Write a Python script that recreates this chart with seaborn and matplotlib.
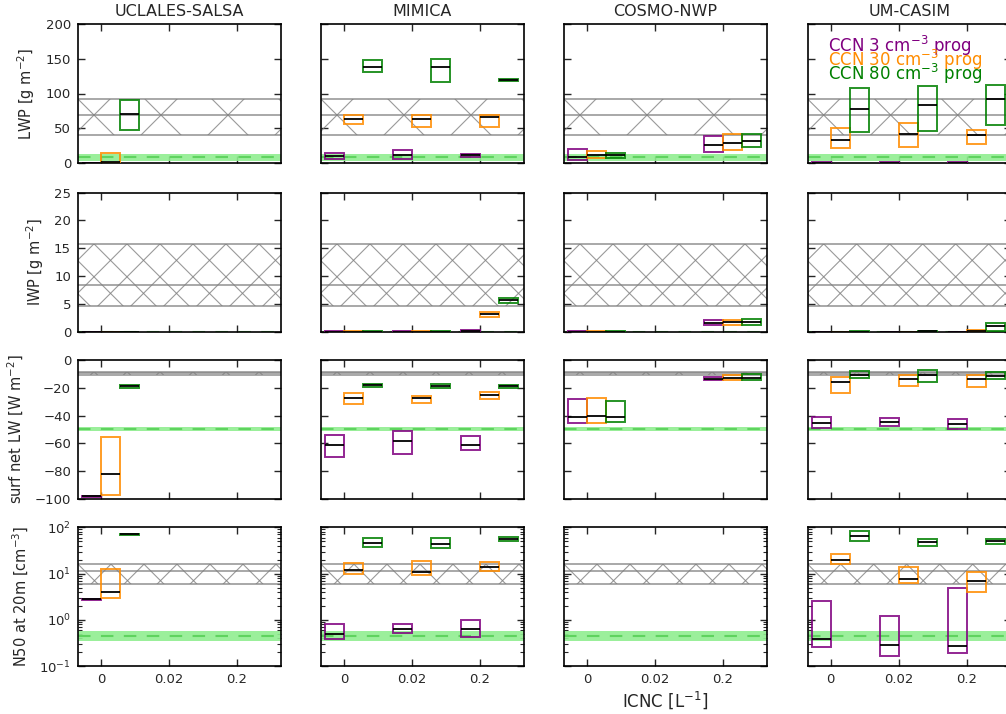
#!/usr/bin/env python3
"""
Box summary of cloud properties per model, CCN and ICNC
"""

import numpy as np
import matplotlib
matplotlib.use('Agg')
import matplotlib.pyplot as plt
import matplotlib.transforms as mtransforms
from matplotlib.collections import LineCollection
from matplotlib.patches import Rectangle
import seaborn as sns

nan = np.nan
N = (nan, nan, nan)

models = ['UCLALES-SALSA', 'MIMICA', 'COSMO-NWP', 'UM-CASIM']
icnc_labels = ['0', '0.02', '0.2']
ccn_labels = ['CCN 3 cm$^{-3}$ prog', 'CCN 30 cm$^{-3}$ prog', 'CCN 80 cm$^{-3}$ prog']
ccn_colors = ['#800080', '#ff8c00', '#008000']

# (low, median, high) per model -> [ccn3, ccn30, ccn80] -> [icnc 0, 0.02, 0.2]
lwp = {
    'UCLALES-SALSA': [[(0, 0, 0), N, N], [(0, 1.5, 14), N, N], [(48, 70, 90), N, N]],
    'MIMICA': [[(5.3, 10.6, 14.9), (5.8, 12, 18.2), (8.2, 11, 13.5)],
               [(55.6, 64, 69.5), (52.3, 64, 69), (51.3, 66, 69.5)],
               [(130.5, 138, 147.8), (117, 138, 149.6), (117.5, 119, 120.5)]],
    'COSMO-NWP': [[(3.8, 9, 19.6), N, (15.8, 25.9, 38.9)],
                  [(6.7, 11, 16.8), N, (19.2, 29.3, 42.2)],
                  [(7.2, 11.8, 14.4), N, (22.5, 31.2, 41.2)]],
    'UM-CASIM': [[(0, 0.5, 1), (0, 0.5, 1), (0, 0.5, 1)],
                 [(21.6, 33.6, 50.8), (23.5, 41.7, 57.5), (27.3, 41, 47)],
                 [(45, 77, 107.4), (46, 83.5, 111.3), (54.7, 92, 112.7)]],
}

iwp = {
    'UCLALES-SALSA': [[(0, 0, 0), N, N], [(0, 0, 0), N, N], [(0, 0, 0), N, N]],
    'MIMICA': [[(0, 0, 0.05), (0, 0, 0.05), (0, 0.1, 0.25)],
               [(0, 0, 0.05), (0, 0, 0.05), (2.7, 3.1, 3.5)],
               [(0, 0, 0.05), (0, 0, 0.05), (5.2, 5.7, 6.1)]],
    'COSMO-NWP': [[(0, 0, 0.05), N, (1.2, 1.6, 2.1)],
                  [(0, 0, 0.05), N, (1.2, 1.7, 2.1)],
                  [(0, 0, 0.05), N, (1.25, 1.8, 2.35)]],
    'UM-CASIM': [[(0, 0, 0), (0, 0, 0), (0, 0, 0)],
                 [(0, 0, 0), (0, 0, 0), (0.1, 0.2, 0.3)],
                 [(0, 0, 0.05), (0, 0.05, 0.1), (0.1, 0.95, 1.5)]],
}

lw_net = {
    'UCLALES-SALSA': [[(-98.5, -98, -97.5), N, N],
                      [(-96.9, -82.3, -55.5), N, N],
                      [(-20.3, -18.9, -17.9), N, N]],
    'MIMICA': [[(-69.6, -60.8, -54), (-67.5, -58.6, -51), (-64.4, -60.8, -55)],
               [(-31.8, -27, -23.9), (-31.1, -27.5, -25.6), (-28.2, -25.4, -22.7)],
               [(-19.6, -18.3, -17), (-20.3, -18.8, -17.5), (-20.3, -18.9, -18.1)]],
    'COSMO-NWP': [[(-45.5, -40.7, -28), N, (-14.6, -13.4, -12)],
                  [(-45.5, -40, -27.5), N, (-14.1, -12.7, -11)],
                  [(-44.3, -41.1, -29.2), N, (-14.1, -12.7, -10.3)]],
    'UM-CASIM': [[(-48.8, -45.5, -41.1), (-47.6, -44.8, -41.6), (-49.3, -46, -42.4)],
                 [(-24, -15.6, -12), (-18.9, -13.4, -11), (-19.6, -13.4, -11)],
                 [(-13.2, -11, -8.1), (-16, -10.8, -7.4), (-13.4, -11.2, -8.9)]],
}

n50 = {
    'UCLALES-SALSA': [[(2.75, 2.8, 2.85), N, N],
                      [(2.95, 4.1, 12.6), N, N],
                      [(68, 70, 72), N, N]],
    'MIMICA': [[(0.39, 0.5, 0.81), (0.53, 0.65, 0.82), (0.43, 0.65, 0.99)],
               [(9.7, 12, 16.7), (9.2, 10.9, 18.5), (11.6, 14.2, 17.6)],
               [(37, 46, 59.7), (35.8, 43, 57.5), (51.5, 56, 61.6)]],
    'COSMO-NWP': [[N, N, N], [N, N, N], [N, N, N]],
    'UM-CASIM': [[(0.26, 0.385, 2.54), (0.163, 0.29, 1.24), (0.19, 0.28, 5.0)],
                 [(16.2, 19.7, 26), (6.2, 7.7, 14.2), (4.1, 6.9, 10.7)],
                 [(50, 64, 82), (38.9, 47.5, 56.8), (43, 51, 56.8)]],
}

# observed ranges (low, median, high), hatched
obs_hatch = [(41, 69, 92), (4.7, 8.4, 15.8), (-10.5, -9.4, -8.3), (6.0, 11.5, 16.0)]
# reference run range (low, mid, high), green band
ref_band = [(3, 9, 13), (0, 0, 0), (-51, -49.7, -48.5), (0.36, 0.46, 0.59)]

variables = [lwp, iwp, lw_net, n50]
ylabels = ['LWP [g m$^{-2}$]', 'IWP [g m$^{-2}$]',
           'surf net LW [W m$^{-2}$]', 'N50 at 20m [cm$^{-3}$]']
ylims = [(0, 200), (0, 25), (-100, 0), (0.1, 100)]
yticks = [np.arange(0, 201, 50), np.arange(0, 26, 5), np.arange(-100, 1, 20), None]

sns.set_style('ticks', {'xtick.direction': 'in', 'ytick.direction': 'in',
                        'xtick.top': True, 'ytick.right': True,
                        'axes.edgecolor': 'black'})
plt.rcParams['font.family'] = ['DejaVu Sans']
plt.rcParams['mathtext.fontset'] = 'dejavusans'

W_PX, H_PX = 1006, 714
fig = plt.figure(figsize=(W_PX / 100, H_PX / 100), dpi=100)

col_left = [78, 321, 564, 807.7]
row_top = [24, 192.7, 360, 527.3]
ax_w, ax_h = 203, 139
box_w = 0.28

# hatch spacing in pixels and where the crossings are anchored
hatch_period = [67, 33, 33, 33]
hatch_anchor = [1, 2, 2, 2]
hatch_xoff = [16, 16, 16, 33]


def draw_hatch_band(ax, band, period, anchor, xoff):
    lo, med, hi = band
    for v in band:
        ax.axhline(v, color='#808080', lw=1.2, alpha=0.8, zorder=1)
    x0 = ax.transAxes.transform((0, 0))[0] + xoff
    y0 = ax.transData.transform((0, band[anchor]))[1]
    segs = []
    for k in range(-40, 41):
        xc = x0 + k * period
        segs.append([(xc - 900, y0 - 900), (xc + 900, y0 + 900)])
        segs.append([(xc - 900, y0 + 900), (xc + 900, y0 - 900)])
    lc = LineCollection(segs, colors='#808080', linewidths=0.8, alpha=0.8,
                        transform=mtransforms.IdentityTransform(), zorder=1)
    ax.add_collection(lc, autolim=False)
    # clip to the band (set after adding, otherwise the axes patch wins)
    trans = mtransforms.blended_transform_factory(ax.transAxes, ax.transData)
    clip = Rectangle((0, lo), 1, hi - lo, transform=trans)
    lc.set_clip_path(clip)


for r, var in enumerate(variables):
    for c, model in enumerate(models):
        ax = fig.add_axes([col_left[c] / W_PX, 1 - (row_top[r] + ax_h) / H_PX,
                           ax_w / W_PX, ax_h / H_PX])
        if r == 3:
            ax.set_yscale('log')
        ax.set_xlim(-0.34, 2.65)
        ax.set_ylim(*ylims[r])
        if yticks[r] is not None:
            ax.set_yticks(yticks[r])
        ax.set_xticks(range(3))
        ax.tick_params(which='major', length=5, width=1, labelsize=9.5, pad=5)
        ax.tick_params(which='minor', length=3, width=0.8)
        for sp in ax.spines.values():
            sp.set_linewidth(1.2)
            sp.set_color('black')

        # green reference band
        glo, gmid, ghi = ref_band[r]
        ax.axhspan(glo, ghi, color='#90ee90', alpha=0.9, lw=0, zorder=1)
        ax.axhline(gmid, color='#5fd35f', lw=1.5, ls=(0, (6, 5)), zorder=1)

        draw_hatch_band(ax, obs_hatch[r], hatch_period[r], hatch_anchor[r], hatch_xoff[r])

        x = np.arange(3)
        for j, color in enumerate(ccn_colors):
            vals = np.array(var[model][j], dtype=float)
            lo, med, hi = vals[:, 0], vals[:, 1], vals[:, 2]
            left = x + (j - 1) * box_w
            ok = ~np.isnan(med)
            ax.bar(left[ok], (hi - lo)[ok], bottom=lo[ok], width=box_w, align='edge',
                   facecolor='none', edgecolor=color, linewidth=1.4, alpha=0.85, zorder=3)
            ax.hlines(med[ok], left[ok], left[ok] + box_w, color='black', lw=1.3, zorder=4)

        if r == 0:
            ax.set_title(model, fontsize=11.5, pad=6)
        if r == 3:
            ax.set_xticklabels(icnc_labels)
        else:
            ax.set_xticklabels([])
        if c == 0:
            ax.set_ylabel(ylabels[r], fontsize=10.5, labelpad=6)
        else:
            ax.set_yticklabels([])
            ax.yaxis.set_minor_formatter(matplotlib.ticker.NullFormatter())

        if r == 0 and c == 3:
            for j, (lab, color) in enumerate(zip(ccn_labels, ccn_colors)):
                ax.text(0.1, 0.796 - 0.099 * j, lab, color=color, fontsize=12,
                        transform=ax.transAxes, va='baseline', ha='left')

fig.text(665 / W_PX, 1 - 700 / H_PX, 'ICNC [L$^{-1}$]', ha='center', va='center',
         fontsize=12)

plt.savefig('out.png', dpi=100)
